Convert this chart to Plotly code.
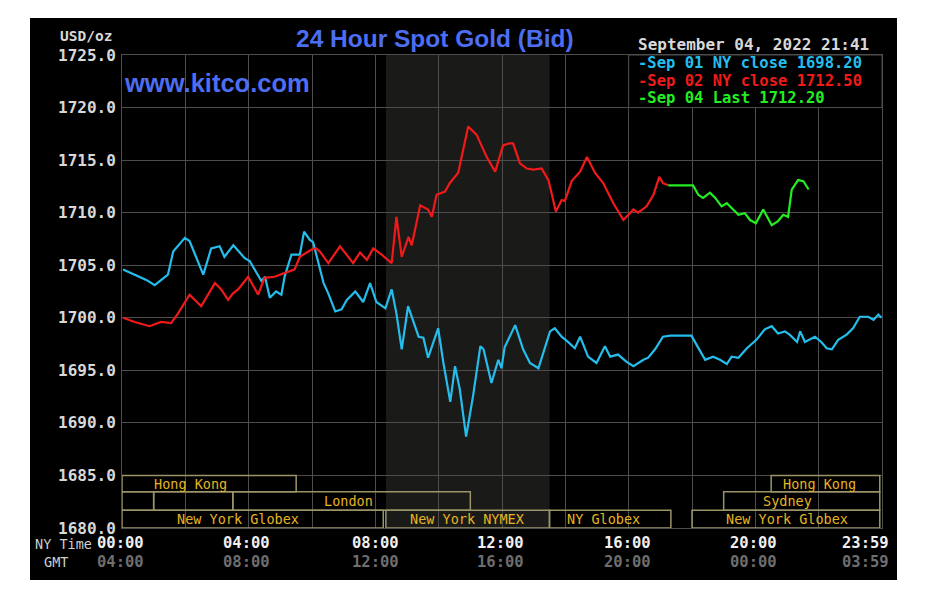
import plotly.graph_objects as go

# ---------------- data ----------------
sep01_times = [
    "00:02", "00:31", "00:46", "01:02", "01:14", "01:27", "01:37", "01:59", "02:08", "02:21",
    "02:34", "02:49", "03:05", "03:14", "03:31", "03:52", "04:02", "04:24", "04:31", "04:40",
    "04:52", "05:02", "05:08", "05:21", "05:37", "05:45", "05:56", "06:02", "06:09", "06:22",
    "06:31", "06:44", "06:56", "07:06", "07:22", "07:37", "07:50", "08:02", "08:19", "08:31",
    "08:40", "08:50", "09:02", "09:22", "09:31", "09:40", "09:59", "10:09", "10:22", "10:31",
    "10:40", "10:52", "11:05", "11:19", "11:25", "11:40", "11:53", "11:59", "12:05", "12:25",
    "12:40", "12:53", "13:09", "13:16", "13:31", "13:40", "13:53", "14:05", "14:18", "14:28",
    "14:43", "14:59", "15:15", "15:25", "15:40", "15:56", "16:09", "16:28", "16:37", "16:50",
    "17:05", "17:19", "17:59", "18:09", "18:25", "18:40", "18:53", "19:06", "19:15", "19:28",
    "19:44", "20:02", "20:18", "20:31", "20:43", "20:56", "21:05", "21:19", "21:25", "21:34",
    "21:53", "22:05", "22:15", "22:25", "22:37", "22:53", "23:05", "23:18", "23:34", "23:44",
    "23:53", "23:59",
]
sep01_vals = [
    1704.6, 1703.9, 1703.6, 1703.1, 1703.6, 1704.1, 1706.3, 1707.6, 1707.3, 1705.7,
    1704.1, 1706.6, 1706.8, 1705.8, 1706.9, 1705.7, 1705.4, 1703.5, 1703.9, 1701.9,
    1702.5, 1702.2, 1703.9, 1706.0, 1706.0, 1708.2, 1707.4, 1707.2, 1705.8, 1703.3,
    1702.3, 1700.6, 1700.8, 1701.7, 1702.5, 1701.5, 1703.3, 1701.5, 1700.9, 1702.7,
    1700.4, 1697.0, 1701.1, 1698.2, 1698.1, 1696.2, 1699.0, 1695.7, 1692.0, 1695.4,
    1693.2, 1688.7, 1692.5, 1697.3, 1697.0, 1693.8, 1696.0, 1695.2, 1697.2, 1699.3,
    1697.0, 1695.7, 1695.2, 1696.3, 1698.7, 1699.0, 1698.2, 1697.7, 1697.1, 1698.2,
    1696.3, 1695.7, 1697.3, 1696.3, 1696.5, 1695.8, 1695.4, 1696.0, 1696.2, 1697.0,
    1698.2, 1698.3, 1698.3, 1697.4, 1696.0, 1696.3, 1696.0, 1695.6, 1696.3, 1696.2,
    1697.1, 1697.9, 1698.9, 1699.2, 1698.5, 1698.7, 1698.4, 1697.7, 1698.7, 1697.7,
    1698.2, 1697.7, 1697.1, 1697.0, 1697.9, 1698.4, 1699.0, 1700.1, 1700.1, 1699.8,
    1700.3, 1700.0,
]

sep02_times = [
    "00:02", "00:24", "00:52", "01:14", "01:33", "01:46", "02:08", "02:30", "02:56", "03:08",
    "03:21", "03:30", "03:40", "03:59", "04:08", "04:18", "04:30", "04:49", "05:05", "05:18",
    "05:27", "05:37", "05:49", "05:59", "06:08", "06:15", "06:31", "06:53", "07:18", "07:31",
    "07:44", "07:56", "08:12", "08:31", "08:40", "08:50", "09:03", "09:09", "09:25", "09:40",
    "09:47", "09:56", "10:12", "10:21", "10:37", "10:56", "11:12", "11:31", "11:47", "12:02",
    "12:14", "12:21", "12:34", "12:47", "12:59", "13:15", "13:28", "13:42", "13:53", "13:59",
    "14:12", "14:28", "14:41", "14:56", "15:12", "15:31", "15:50", "16:09", "16:18", "16:34",
    "16:47", "16:58", "17:05", "17:15",
]
sep02_vals = [
    1700.0, 1699.6, 1699.2, 1699.6, 1699.5, 1700.4, 1702.2, 1701.1, 1703.3, 1702.7,
    1701.7, 1702.3, 1702.7, 1703.9, 1703.1, 1702.2, 1703.8, 1703.9, 1704.2, 1704.4,
    1704.6, 1705.8, 1706.2, 1706.5, 1706.6, 1706.3, 1705.2, 1706.8, 1705.2, 1706.2,
    1705.5, 1706.6, 1706.0, 1705.2, 1709.6, 1705.8, 1707.7, 1706.9, 1710.7, 1710.3,
    1709.6, 1711.7, 1712.0, 1712.8, 1713.8, 1718.2, 1717.4, 1715.3, 1713.9, 1716.4,
    1716.6, 1716.6, 1714.7, 1714.2, 1714.1, 1714.2, 1713.1, 1710.1, 1711.2, 1711.1,
    1713.0, 1713.9, 1715.3, 1713.8, 1712.8, 1710.9, 1709.3, 1710.3, 1710.0, 1710.6,
    1711.7, 1713.4, 1712.8, 1712.6,
]

sep04_times = [
    "17:15", "18:02", "18:12", "18:21", "18:34", "18:44", "18:56", "19:06", "19:18", "19:28",
    "19:40", "19:50", "20:01", "20:15", "20:31", "20:43", "20:53", "21:02", "21:09", "21:21",
    "21:31", "21:41",
]
sep04_vals = [
    1712.6, 1712.6, 1711.7, 1711.4, 1711.9, 1711.4, 1710.6, 1710.9, 1710.3, 1709.8,
    1709.95, 1709.3, 1709.0, 1710.3, 1708.8, 1709.2, 1709.8, 1709.6, 1712.2, 1713.1,
    1713.0, 1712.2,
]

legend_texts = ["-Sep 01 NY close 1698.20", "-Sep 02 NY close 1712.50", "-Sep 04 Last 1712.20"]
y_tick_values = [1680, 1685, 1690, 1695, 1700, 1705, 1710, 1715, 1720, 1725]
ny_time_labels = ["00:00", "04:00", "08:00", "12:00", "16:00", "20:00", "23:59"]
gmt_time_labels = ["04:00", "08:00", "12:00", "16:00", "20:00", "00:00", "03:59"]
nymex_session = ("08:20", "13:30")

# trading sessions: (row, start, end, label)
sessions = [
    (1, "00:00", "05:30", "Hong Kong"),
    (1, "20:30", "23:59", "Hong Kong"),
    (2, "00:00", "01:00", ""),
    (2, "01:00", "03:30", ""),
    (2, "03:30", "11:00", "London"),
    (2, "19:00", "23:59", "Sydney"),
    (3, "00:00", "08:15", "New York Globex"),
    (3, "08:20", "13:30", "New York NYMEX"),
    (3, "13:30", "17:20", "NY Globex"),
    (3, "18:00", "23:59", "New York Globex"),
]


def hrs(t):
    h, m = t.split(":")
    return int(h) + int(m) / 60.0


# ---------------- styling / layout ----------------
W, H = 927, 597
L, R, T, B = 122, 45, 55, 69
PW, PH = W - L - R, H - T - B


def px_x(px):
    return (px - L) / PW


def px_y(py):
    return (H - B - py) / PH


BLUE = "#25bdec"
RED = "#f01a1a"
GREEN = "#22ee22"
GRID = "#4d4d4d"
MONO = "DejaVu Sans Mono"
BOX_LINE = "#9a9468"
BOX_TEXT = "#e6b422"

fig = go.Figure()
fig.add_trace(go.Scatter(x=[hrs(t) for t in sep01_times], y=sep01_vals, mode="lines",
                         line=dict(color=BLUE, width=2.2), hoverinfo="skip"))
fig.add_trace(go.Scatter(x=[hrs(t) for t in sep02_times], y=sep02_vals, mode="lines",
                         line=dict(color=RED, width=2.2), hoverinfo="skip"))
fig.add_trace(go.Scatter(x=[hrs(t) for t in sep04_times], y=sep04_vals, mode="lines",
                         line=dict(color=GREEN, width=2.2), hoverinfo="skip"))

shapes = []
# black panel behind the whole chart
shapes.append(dict(type="rect", xref="paper", yref="paper", layer="below",
                   x0=px_x(30), x1=px_x(897), y0=px_y(580), y1=px_y(18),
                   fillcolor="black", line=dict(width=0)))
# NYMEX shaded period
shapes.append(dict(type="rect", xref="x", yref="y", layer="below",
                   x0=hrs(nymex_session[0]), x1=hrs(nymex_session[1]), y0=1680, y1=1725,
                   fillcolor="#1a1a18", line=dict(width=0)))
# legend box
shapes.append(dict(type="rect", xref="x", yref="y", layer="above",
                   x0=16, x1=24, y0=1720, y1=1725,
                   fillcolor="black", line=dict(color=GRID, width=1)))

row_bounds = {1: (1683.45, 1685.0), 2: (1681.7, 1683.45), 3: (1680.0, 1681.7)}
label_centers = [2.15, 22.04, None, None, 7.14, 21.0, 3.65, 10.9, 15.2, 20.99]

annotations = []
for (row, s, e, lab), lc in zip(sessions, label_centers):
    y0, y1 = row_bounds[row]
    shapes.append(dict(type="rect", xref="x", yref="y", layer="above",
                       x0=hrs(s), x1=min(hrs(e), 23.93), y0=y0, y1=y1,
                       fillcolor="rgba(0,0,0,0)", line=dict(color=BOX_LINE, width=1.5)))
    if lab:
        annotations.append(dict(x=lc, y=(y0 + y1) / 2, xref="x", yref="y", text=lab,
                                showarrow=False, xanchor="center", yanchor="middle",
                                font=dict(family=MONO, size=13.5, color=BOX_TEXT)))

# x-axis labels (NY time + GMT)
label_px = [120, 246, 375.5, 500.8, 627, 753, 865]
for lab, g, p in zip(ny_time_labels, gmt_time_labels, label_px):
    annotations.append(dict(x=px_x(p), y=px_y(543), xref="paper", yref="paper", text="<b>%s</b>" % lab,
                            showarrow=False, xanchor="center", yanchor="middle",
                            font=dict(family=MONO, size=15.5, color="#f0f0f0")))
    annotations.append(dict(x=px_x(p), y=px_y(562), xref="paper", yref="paper", text="<b>%s</b>" % g,
                            showarrow=False, xanchor="center", yanchor="middle",
                            font=dict(family=MONO, size=15.5, color="#6e6e6e")))
annotations.append(dict(x=px_x(63.5), y=px_y(544), xref="paper", yref="paper", text="NY Time",
                        showarrow=False, xanchor="center", yanchor="middle",
                        font=dict(family=MONO, size=13.5, color="#cfcfcf")))
annotations.append(dict(x=px_x(56), y=px_y(562), xref="paper", yref="paper", text="GMT",
                        showarrow=False, xanchor="center", yanchor="middle",
                        font=dict(family=MONO, size=13.5, color="#cfcfcf")))

# units, title, site, date
annotations.append(dict(x=px_x(114), y=px_y(36), xref="paper", yref="paper", text="<b>USD/oz</b>",
                        showarrow=False, xanchor="right", yanchor="middle",
                        font=dict(family=MONO, size=14.5, color="#d8d8d8")))
annotations.append(dict(x=px_x(435), y=px_y(38), xref="paper", yref="paper",
                        text="<b>24 Hour Spot Gold (Bid)</b>",
                        showarrow=False, xanchor="center", yanchor="middle",
                        font=dict(family="Liberation Sans, Arial", size=24.5, color="#4d6ef2")))
annotations.append(dict(x=px_x(122), y=px_y(83), xref="paper", yref="paper",
                        text="<b>www.kitco.com</b>",
                        showarrow=False, xanchor="left", yanchor="middle",
                        font=dict(family="Liberation Sans, Arial", size=25.5, color="#4d6ef2")))
annotations.append(dict(x=px_x(636), y=px_y(45), xref="paper", yref="paper",
                        text="<b>September 04, 2022 21:41</b>",
                        showarrow=False, xanchor="left", yanchor="middle",
                        font=dict(family=MONO, size=16, color="#d8d8d8")))
for txt, col, py in zip(legend_texts, [BLUE, RED, GREEN], [63.5, 80.5, 97.5]):
    annotations.append(dict(x=px_x(636), y=px_y(py), xref="paper", yref="paper",
                            text="<b>%s</b>" % txt,
                            showarrow=False, xanchor="left", yanchor="middle",
                            font=dict(family=MONO, size=15.5, color=col)))

fig.update_layout(
    width=W, height=H,
    margin=dict(l=L, r=R, t=T, b=B, pad=0),
    paper_bgcolor="white", plot_bgcolor="black",
    showlegend=False,
    shapes=shapes, annotations=annotations,
    xaxis=dict(range=[0, 24], tickvals=list(range(0, 25, 2)), showticklabels=False,
               showgrid=True, gridcolor=GRID, gridwidth=1, zeroline=False,
               showline=True, linecolor=GRID, mirror=True, ticks="", fixedrange=True),
    yaxis=dict(range=[1680, 1725], tickvals=y_tick_values, tickformat=".1f",
               showgrid=True, gridcolor=GRID, gridwidth=1, zeroline=False,
               showline=True, linecolor=GRID, mirror=True, ticks="",
               tickfont=dict(family=MONO, size=16, color="#d8d8d8", weight="bold"),
               ticklabelstandoff=2, fixedrange=True),
)

fig.write_html("out.html", config={"displayModeBar": False})
